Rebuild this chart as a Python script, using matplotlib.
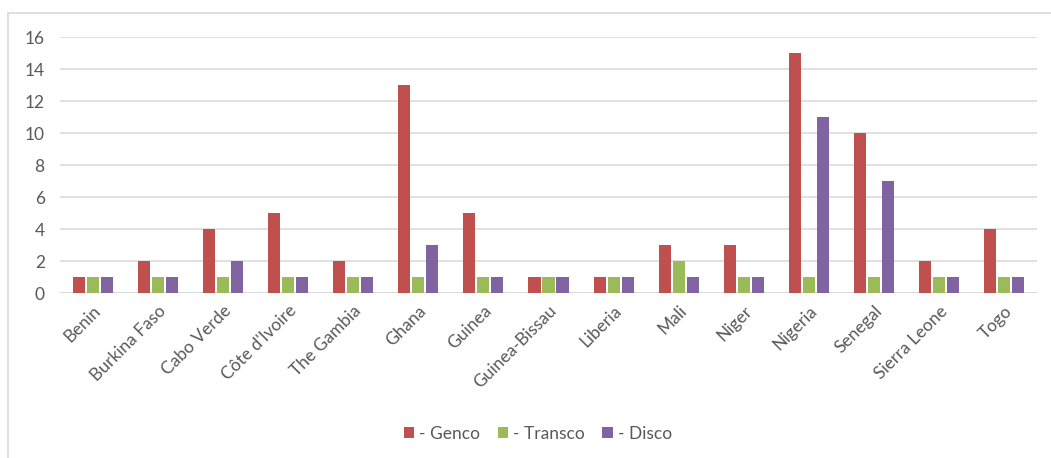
import numpy as np
import matplotlib.pyplot as plt
from matplotlib.patches import Rectangle

# Number of utilities per country, by segment
paises = ['Benin', 'Burkina Faso', 'Cabo Verde', "Côte d'Ivoire", 'The Gambia',
          'Ghana', 'Guinea', 'Guinea-Bissau', 'Liberia', 'Mali', 'Niger',
          'Nigeria', 'Senegal', 'Sierra Leone', 'Togo']
genco = [1, 2, 4, 5, 2, 13, 5, 1, 1, 3, 3, 15, 10, 2, 4]
transco = [1, 1, 1, 1, 1, 1, 1, 1, 1, 2, 1, 1, 1, 1, 1]
disco = [1, 1, 2, 1, 1, 3, 1, 1, 1, 1, 1, 11, 7, 1, 1]

series = [('- Genco', genco, '#C0504D'),
          ('- Transco', transco, '#9BBB59'),
          ('- Disco', disco, '#8064A2')]

plt.rcParams['font.family'] = ['Lato', 'DejaVu Sans']
cinza = '#595959'

fig = plt.figure(figsize=(10.51, 4.58), dpi=100)
ax = fig.add_axes([60 / 1051, 1 - 293 / 458, 977 / 1051, 256 / 458])

# chart frame (only left and top edges fall inside the image)
fig.patches.append(Rectangle((8 / 1051, -0.1), 1.2, 1 - 13 / 458 + 0.1,
                             transform=fig.transFigure, fill=False,
                             edgecolor='#D9D9D9', linewidth=1.2))

x = np.arange(len(paises))
larg = 0.185
passo = 0.215
for i, (nome, vals, cor) in enumerate(series):
    ax.bar(x + (i - 1) * passo, vals, width=larg, color=cor, label=nome,
           zorder=3)

ax.set_xlim(-0.5, len(paises) - 0.5)
ax.set_ylim(0, 16)
ax.set_yticks(range(0, 17, 2))
ax.yaxis.grid(True, color='#D9D9D9', linewidth=1.1, zorder=0)
for s in ax.spines.values():
    s.set_visible(False)
ax.axhline(0, color='#D9D9D9', linewidth=1.1, zorder=1)

ax.tick_params(axis='both', length=0, labelsize=12.5, labelcolor=cinza)
ax.tick_params(axis='y', pad=11)
ax.set_xticks(x)
ax.set_xticklabels(paises, rotation=45, ha='right', rotation_mode='anchor')
ax.tick_params(axis='x', pad=7)

leg = fig.legend(loc='center', bbox_to_anchor=(538 / 1051, 1 - 434 / 458),
                 ncol=3, frameon=False, fontsize=12.5, handlelength=0.6,
                 handleheight=0.6, handletextpad=0.3, columnspacing=1.0)
for t in leg.get_texts():
    t.set_color(cinza)

fig.savefig('out.png', dpi=100)
